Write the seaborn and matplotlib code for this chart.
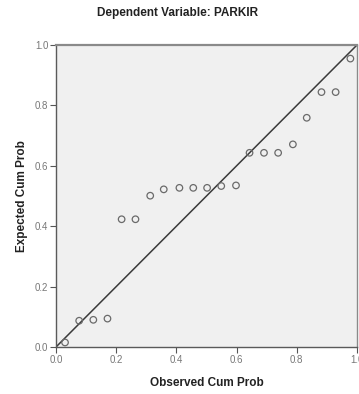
import pandas as pd
import matplotlib.pyplot as plt
import seaborn as sns

# P-P plot values
observed = [0.030, 0.077, 0.124, 0.171, 0.218, 0.264, 0.313, 0.358, 0.410, 0.456,
            0.502, 0.549, 0.598, 0.643, 0.691, 0.738, 0.787, 0.833, 0.882, 0.929, 0.978]
expected = [0.015, 0.087, 0.090, 0.094, 0.423, 0.423, 0.501, 0.522, 0.527, 0.527,
            0.527, 0.533, 0.535, 0.643, 0.643, 0.643, 0.671, 0.759, 0.844, 0.844, 0.955]
ref_line = [0.0, 1.0]
ticks = [0.0, 0.2, 0.4, 0.6, 0.8, 1.0]
tick_labels = ["0.0", "0.2", "0.4", "0.6", "0.8", "1.0"]

df = pd.DataFrame({"Observed Cum Prob": observed, "Expected Cum Prob": expected})

sns.set_style("white")
plt.rcParams["font.family"] = ["Liberation Sans", "DejaVu Sans"]

fig = plt.figure(figsize=(3.59, 3.94), dpi=100)
ax = fig.add_axes([56 / 359, 47 / 394, 301 / 359, 302 / 394])
ax.set_facecolor("#f0f0f0")

sns.lineplot(x=ref_line, y=ref_line, ax=ax, color="#3a3a3a", linewidth=1.1)
sns.scatterplot(data=df, x="Observed Cum Prob", y="Expected Cum Prob", ax=ax,
                marker="o", s=22, facecolor="none", edgecolor="#6a6a6a",
                linewidth=0.9, zorder=3)

ax.set_xlim(0, 1)
ax.set_ylim(0, 1)
ax.set_xticks(ticks)
ax.set_yticks(ticks)
ax.set_xticklabels(tick_labels)
ax.set_yticklabels(tick_labels)
ax.tick_params(axis="both", direction="out", length=4, width=0.8, color="#555555",
               labelsize=7, labelcolor="#777777", left=True, bottom=True, pad=1.5)

for side in ["left", "bottom", "top", "right"]:
    ax.spines[side].set_color("#5a5a5a")
    ax.spines[side].set_linewidth(1.0)
ax.spines["top"].set_color("#8a8a8a")
ax.spines["top"].set_linewidth(1.6)
ax.spines["right"].set_color("#8a8a8a")

ax.set_xlabel("Observed Cum Prob", fontsize=8.5, fontweight="bold", color="#222222", labelpad=9)
ax.set_ylabel("Expected Cum Prob", fontsize=8.5, fontweight="bold", color="#222222", labelpad=5)
fig.text(0.5 * (56 + 300) / 359, 1 - 13 / 394, "Dependent Variable: PARKIR",
         ha="center", va="center", fontsize=8.5, fontweight="bold", color="#222222")

fig.savefig("out.png", dpi=100, facecolor="white")
